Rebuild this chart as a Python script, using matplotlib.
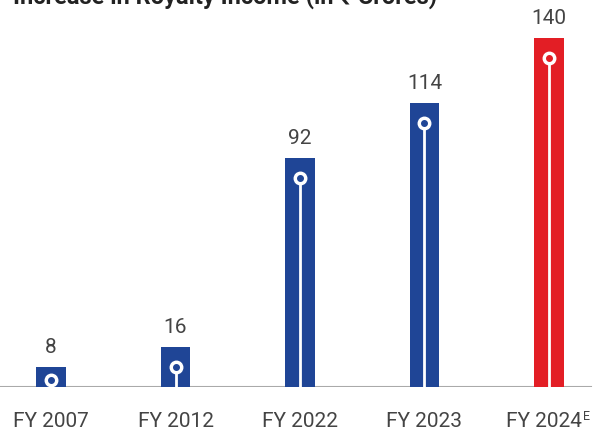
import numpy as np
import matplotlib.pyplot as plt

years = ['FY 2007', 'FY 2012', 'FY 2022', 'FY 2023', 'FY 2024']
income = [8, 16, 92, 114, 140]
colors = ['#1f4596', '#1f4596', '#1f4596', '#1f4596', '#e31e25']

plt.rcParams['font.family'] = ['Roboto', 'DejaVu Sans']

fig = plt.figure(figsize=(6, 4.31), dpi=100)
ax = fig.add_axes([0, 43 / 431, 1, 373.5 / 431])

x = np.arange(len(years))
ax.bar(x, income, width=0.24, color=colors, zorder=2)

# white stem + ring marker inside each bar
for xi, v in zip(x, income):
    cy = max(v - 8, 2.8)
    ax.plot([xi, xi], [0, cy], color='white', lw=2, zorder=3, solid_capstyle='butt')
    ax.plot(xi, cy, 'o', ms=9, mfc='white', mec='white', zorder=4)
    ax.plot(xi, cy, 'o', ms=4, mfc=colors[xi], mec=colors[xi], zorder=5)
    ax.text(xi, v + 4.5, str(v), ha='center', va='bottom', fontsize=15,
            color='#444444')

ax.axhline(0, color='#aaaaaa', lw=1.5, xmax=0.985, zorder=1)
ax.set_xlim(-0.41, 4.41)
ax.set_ylim(0, 150)
for s in ax.spines.values():
    s.set_visible(False)
ax.set_yticks([])
ax.set_xticks([])

# category labels (last one carries a superscript E)
tr = ax.get_xaxis_transform()
for xi, lab in zip(x, years):
    if xi == len(years) - 1:
        t = ax.annotate(lab, xy=(xi, 0), xycoords=tr, xytext=(-5, -34),
                        textcoords='offset pixels', ha='center', va='center',
                        fontsize=15, color='#444444')
        ax.annotate('E', xy=(1, 0.8), xycoords=t, xytext=(1, 0),
                    textcoords='offset pixels', ha='left', va='center',
                    fontsize=9, color='#444444')
    else:
        ax.annotate(lab, xy=(xi, 0), xycoords=tr, xytext=(0, -34),
                    textcoords='offset pixels', ha='center', va='center',
                    fontsize=15, color='#444444')

fig.text(0.022, 1 - 4 / 431, 'Increase in Royalty Income (in \u20b9 Crores)',
         fontsize=17, fontweight='bold', color='#222222', va='baseline')

fig.savefig('out.png', dpi=100)
